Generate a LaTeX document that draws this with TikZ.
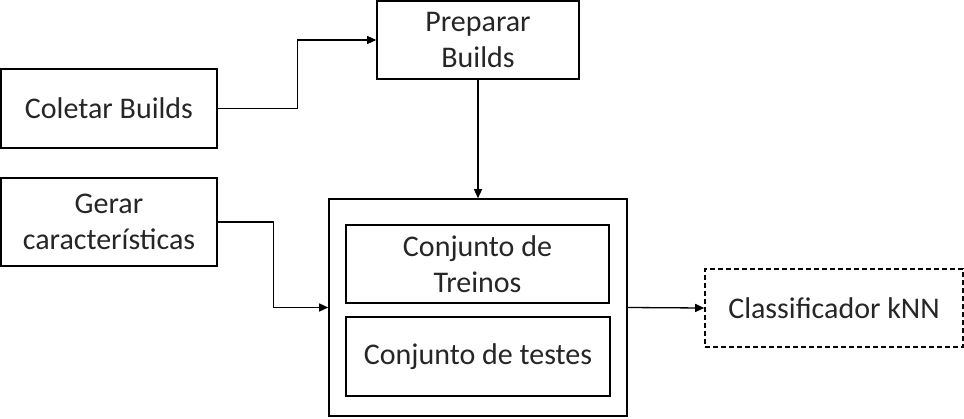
\documentclass[tikz,border=0pt]{standalone}
\usepackage{fontspec}
\setmainfont{Carlito}
\usetikzlibrary{arrows.meta}
\begin{document}
\begin{tikzpicture}[x=1pt,y=-1pt,
  box/.style={draw=black, line width=1.6pt, inner sep=0pt, align=center,
    font=\fontsize{30}{36}\selectfont, text=black!85},
  arr/.style={line width=1.3pt, -{Triangle[length=9pt,width=8pt]}}]
\useasboundingbox (0,0) rectangle (964,418);
\node[box, minimum width=216pt, minimum height=79pt] (coletar) at (109,108.5) {Coletar Builds};
\node[box, minimum width=202pt, minimum height=78pt] (preparar) at (478,40) {Preparar\\Builds};
\node[box, minimum width=216pt, minimum height=88pt] (gerar) at (109,222) {Gerar\\características};
\node[box, minimum width=298pt, minimum height=217pt] (outer) at (478,307.5) {};
\node[box, minimum width=263pt, minimum height=78pt] (treinos) at (477.5,264) {Conjunto de\\Treinos};
\node[box, minimum width=264pt, minimum height=79pt] (testes) at (478,356.5) {Conjunto de testes};
\node[box, dash pattern=on 5pt off 3pt, minimum width=258pt, minimum height=78pt] (knn) at (834,308) {Classificador kNN};
\draw[arr] (coletar.east) -- ++(80,0) |- (preparar.west);
\draw[arr] (preparar.south) -- (outer.north);
\draw[arr] (gerar.east) -- ++(56,0) |- (outer.west);
\draw[arr] (outer.east) -- (knn.west);
\end{tikzpicture}
\end{document}
